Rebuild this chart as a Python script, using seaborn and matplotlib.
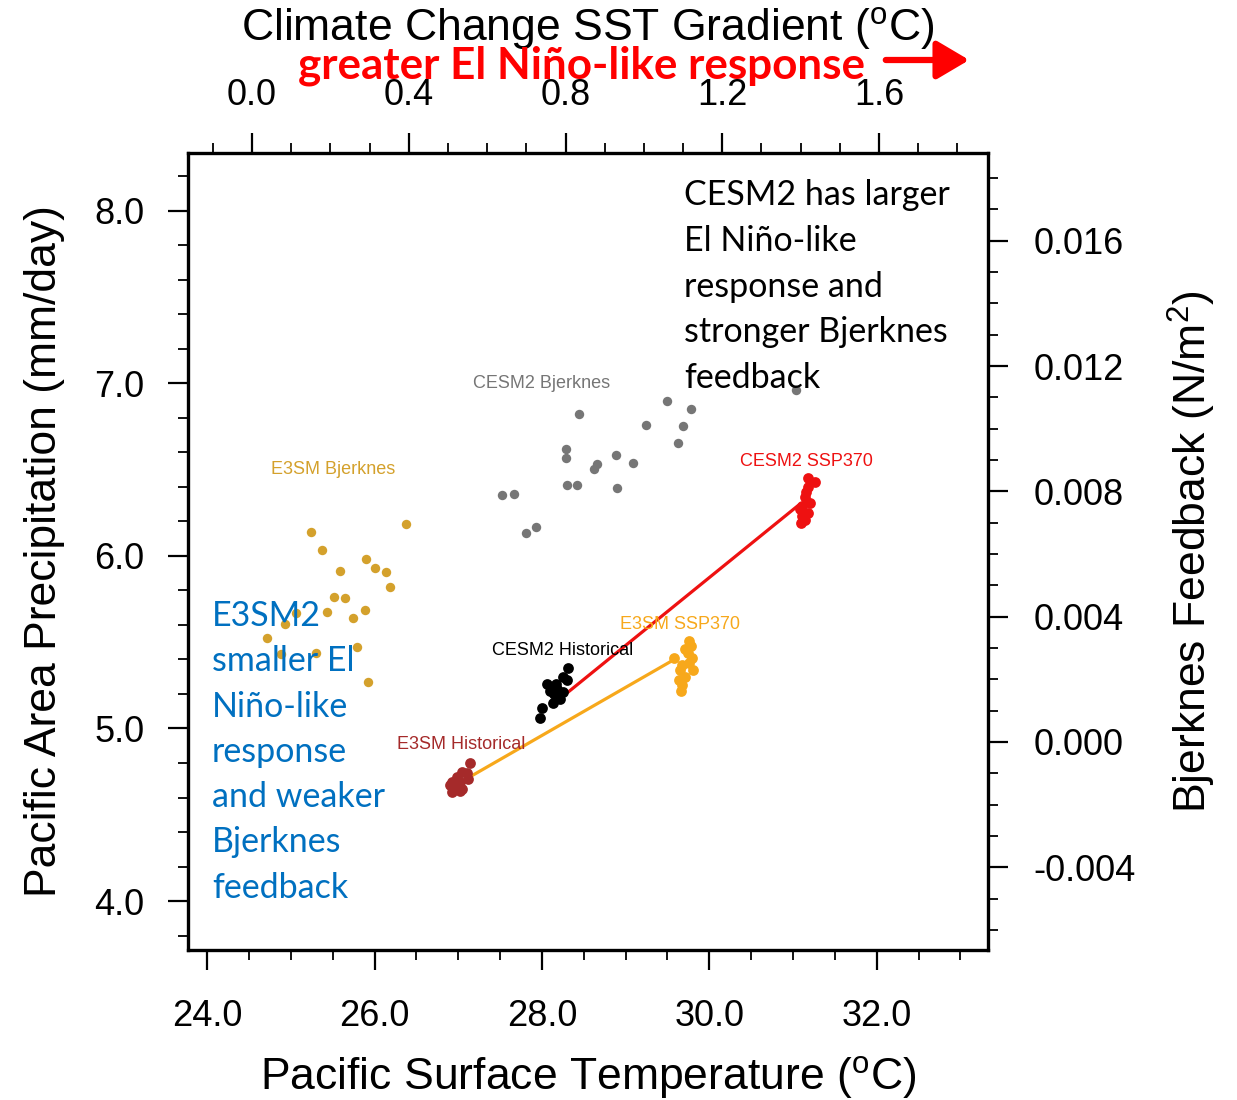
import numpy as np
import pandas as pd
import matplotlib
matplotlib.use("Agg")
import matplotlib.pyplot as plt
from matplotlib.ticker import MultipleLocator, FormatStrFormatter
from matplotlib.patches import FancyArrowPatch
import seaborn as sns

# ---------------- data ----------------
# Bjerknes feedback vs climate-change SST gradient (top / right axes)
e3sm_bjk_grad = [0.151, 0.179, 0.394, 0.292, 0.313, 0.342, 0.353, 0.225, 0.209, 0.237,
                 0.192, 0.289, 0.257, 0.112, 0.083, 0.038, 0.075, 0.163, 0.267, 0.297]
e3sm_bjk_fb = [0.00669, 0.00613, 0.00697, 0.00583, 0.00556, 0.00541, 0.00495, 0.00545, 0.00464, 0.00461,
               0.00415, 0.00422, 0.00397, 0.00411, 0.00377, 0.00333, 0.00280, 0.00285, 0.00304, 0.00193]

cesm_bjk_grad = [0.834, 1.058, 1.121, 1.006, 1.099, 1.087, 0.802, 0.802, 0.929, 0.971,
                 0.879, 0.873, 0.804, 0.830, 0.931, 0.638, 0.668, 0.725, 0.700, 1.389]
cesm_bjk_fb = [0.01047, 0.01089, 0.01062, 0.01012, 0.01010, 0.00954, 0.00934, 0.00908, 0.00916, 0.00890,
               0.00887, 0.00872, 0.00820, 0.00820, 0.00811, 0.00789, 0.00793, 0.00685, 0.00667, 0.01122]

# Precipitation vs surface temperature (bottom / left axes)
cesm_ssp_t = [31.18, 31.26, 31.18, 31.15, 31.14, 31.20, 31.11, 31.08, 31.18, 31.11, 31.14, 31.09]
cesm_ssp_p = [6.45, 6.43, 6.40, 6.37, 6.34, 6.31, 6.29, 6.27, 6.25, 6.23, 6.21, 6.19]

cesm_hist_t = [28.31, 28.25, 28.17, 28.06, 28.10, 28.18, 28.25, 28.14, 28.22, 28.13, 28.00, 27.98, 28.30]
cesm_hist_p = [5.35, 5.30, 5.26, 5.26, 5.22, 5.23, 5.21, 5.20, 5.17, 5.15, 5.12, 5.06, 5.28]

e3sm_hist_t = [27.14, 27.04, 27.10, 26.98, 26.92, 27.02, 27.12, 26.90, 26.96, 27.04, 26.92, 27.02]
e3sm_hist_p = [4.80, 4.75, 4.74, 4.72, 4.69, 4.69, 4.71, 4.67, 4.66, 4.65, 4.63, 4.64]

e3sm_ssp_t = [29.76, 29.78, 29.71, 29.75, 29.79, 29.58, 29.76, 29.67, 29.81, 29.65, 29.71, 29.64, 29.67, 29.66]
e3sm_ssp_p = [5.51, 5.48, 5.46, 5.44, 5.41, 5.41, 5.38, 5.37, 5.34, 5.34, 5.30, 5.28, 5.25, 5.22]

# Historical -> SSP370 connecting lines
cesm_line_t = [28.31, 31.08]
cesm_line_p = [5.21, 6.30]
e3sm_line_t = [27.14, 29.58]
e3sm_line_p = [4.72, 5.40]

bottom_ticks = [24.0, 26.0, 28.0, 30.0, 32.0]
left_ticks = [4.0, 5.0, 6.0, 7.0, 8.0]
top_ticks = [0.0, 0.4, 0.8, 1.2, 1.6]
right_ticks = [-0.004, 0.000, 0.004, 0.008, 0.012, 0.016]

# ---------------- style ----------------
sns.set_theme(style="ticks")
plt.rcParams["font.family"] = ["Liberation Sans", "DejaVu Sans"]
plt.rcParams["mathtext.fontset"] = "custom"
plt.rcParams["mathtext.rm"] = "Liberation Sans"
plt.rcParams["axes.unicode_minus"] = False
plt.rcParams["text.color"] = "black"
plt.rcParams["axes.labelcolor"] = "black"
plt.rcParams["xtick.color"] = "black"
plt.rcParams["ytick.color"] = "black"
plt.rcParams["xtick.labelcolor"] = "black"
plt.rcParams["ytick.labelcolor"] = "black"

fig = plt.figure(figsize=(12.37, 11), dpi=100)
W, H = 1237, 1100
pos = [188 / W, 1 - 950 / H, 800 / W, 797 / H]
ax = fig.add_axes(pos)
axb = fig.add_axes(pos, frameon=False)

C_GOLD = "#D4A12C"
C_GRAY = "#767676"
C_RED = "#EE1111"
C_ORANGE = "#F7A81B"
C_BROWN = "#A52A2A"

# lines (under points)
ax.plot(cesm_line_t, cesm_line_p, color=C_RED, lw=2.3, zorder=2)
ax.plot(e3sm_line_t, e3sm_line_p, color=C_ORANGE, lw=2.3, zorder=2)

s_big = 60
sns.scatterplot(x=cesm_ssp_t, y=cesm_ssp_p, ax=ax, color=C_RED, s=s_big, linewidth=0, zorder=3)
sns.scatterplot(x=cesm_hist_t, y=cesm_hist_p, ax=ax, color="black", s=s_big, linewidth=0, zorder=3)
sns.scatterplot(x=e3sm_hist_t, y=e3sm_hist_p, ax=ax, color=C_BROWN, s=s_big, linewidth=0, zorder=3)
sns.scatterplot(x=e3sm_ssp_t, y=e3sm_ssp_p, ax=ax, color=C_ORANGE, s=s_big, linewidth=0, zorder=3)

s_small = 46
sns.scatterplot(x=e3sm_bjk_grad, y=e3sm_bjk_fb, ax=axb, color=C_GOLD, s=s_small, linewidth=0)
sns.scatterplot(x=cesm_bjk_grad, y=cesm_bjk_fb, ax=axb, color=C_GRAY, s=s_small, linewidth=0)

# limits
ax.set_xlim(23.77, 33.33)
ax.set_ylim(3.716, 8.336)
axb.set_xlim(-0.1634, 1.878)
axb.set_ylim(-0.00664, 0.0188)

# series labels
lab_fs = 13
ax.text(28.0, 7.0, "CESM2 Bjerknes", color=C_GRAY, fontsize=lab_fs, ha="center", va="center")
ax.text(25.5, 6.50, "E3SM Bjerknes", color=C_GOLD, fontsize=lab_fs, ha="center", va="center")
ax.text(31.16, 6.55, "CESM2 SSP370", color=C_RED, fontsize=lab_fs, ha="center", va="center")
ax.text(29.65, 5.605, "E3SM SSP370", color=C_ORANGE, fontsize=lab_fs, ha="center", va="center")
ax.text(28.25, 5.45, "CESM2 Historical", color="black", fontsize=lab_fs, ha="center", va="center")
ax.text(27.04, 4.905, "E3SM Historical", color=C_BROWN, fontsize=lab_fs, ha="center", va="center")

# ticks
tick_fs = 26
ax.xaxis.set_major_locator(plt.FixedLocator(bottom_ticks))
ax.xaxis.set_minor_locator(MultipleLocator(0.5))
ax.yaxis.set_major_locator(plt.FixedLocator(left_ticks))
ax.yaxis.set_minor_locator(MultipleLocator(0.2))
ax.xaxis.set_major_formatter(FormatStrFormatter("%.1f"))
ax.yaxis.set_major_formatter(FormatStrFormatter("%.1f"))

axb.xaxis.tick_top()
axb.yaxis.tick_right()
axb.xaxis.set_label_position("top")
axb.yaxis.set_label_position("right")
axb.xaxis.set_major_locator(plt.FixedLocator(top_ticks))
axb.xaxis.set_minor_locator(MultipleLocator(0.1))
axb.yaxis.set_major_locator(plt.FixedLocator(right_ticks))
axb.yaxis.set_minor_locator(MultipleLocator(0.001))
axb.xaxis.set_major_formatter(FormatStrFormatter("%.1f"))
axb.yaxis.set_major_formatter(FormatStrFormatter("%.3f"))

for a in (ax, axb):
    a.tick_params(which="major", direction="out", length=14.5, width=1.6, labelsize=tick_fs, color="black")
    a.tick_params(which="minor", direction="out", length=7, width=1.3, color="black")
ax.tick_params(axis="x", which="both", top=False, bottom=True, pad=21)
ax.tick_params(axis="y", which="both", right=False, left=True, pad=17)
axb.tick_params(axis="x", which="both", top=True, bottom=False, labeltop=True, labelbottom=False, pad=14)
axb.tick_params(axis="y", which="both", right=True, left=False, labelright=True, labelleft=False, pad=18)

for sp in ax.spines.values():
    sp.set_linewidth(2.4)
    sp.set_color("black")

lbl_fs = 32
ax.set_xlabel(r"Pacific Surface Temperature ($^{\mathrm{o}}$C)", fontsize=lbl_fs, labelpad=14)
ax.set_ylabel("Pacific Area Precipitation (mm/day)", fontsize=lbl_fs, labelpad=21)
axb.set_xlabel(r"Climate Change SST Gradient ($^{\mathrm{o}}$C)", fontsize=lbl_fs, labelpad=27)
axb.set_ylabel(r"Bjerknes Feedback (N/m$^{\mathrm{2}}$)", fontsize=lbl_fs, labelpad=22, rotation=90)

# annotations
fig.text(298 / W, 1 - 66 / H, "greater El Niño-like response", color="red", fontsize=31.7,
         fontweight="bold", family=["Lato", "DejaVu Sans"], ha="left", va="center")
fig.add_artist(FancyArrowPatch((883 / W, 1 - 60 / H), (972 / W, 1 - 60 / H),
                               transform=fig.transFigure,
                               arrowstyle="-|>,head_length=1.1,head_width=0.65",
                               mutation_scale=18, lw=4.5, color="red"))

fig.text(684 / W, 1 - 179 / H,
         "CESM2 has larger\nEl Niño-like\nresponse and\nstronger Bjerknes\nfeedback",
         color="black", fontsize=24.5, family=["Lato", "DejaVu Sans"], ha="left", va="top",
         linespacing=1.53)
fig.text(212 / W, 1 - 600 / H,
         "E3SM2\nsmaller El\nNiño-like\nresponse\nand weaker\nBjerknes\nfeedback",
         color="#0070C0", fontsize=24.5, family=["Lato", "DejaVu Sans"], ha="left", va="top",
         linespacing=1.51)

fig.savefig("out.png", dpi=100, facecolor="white")
